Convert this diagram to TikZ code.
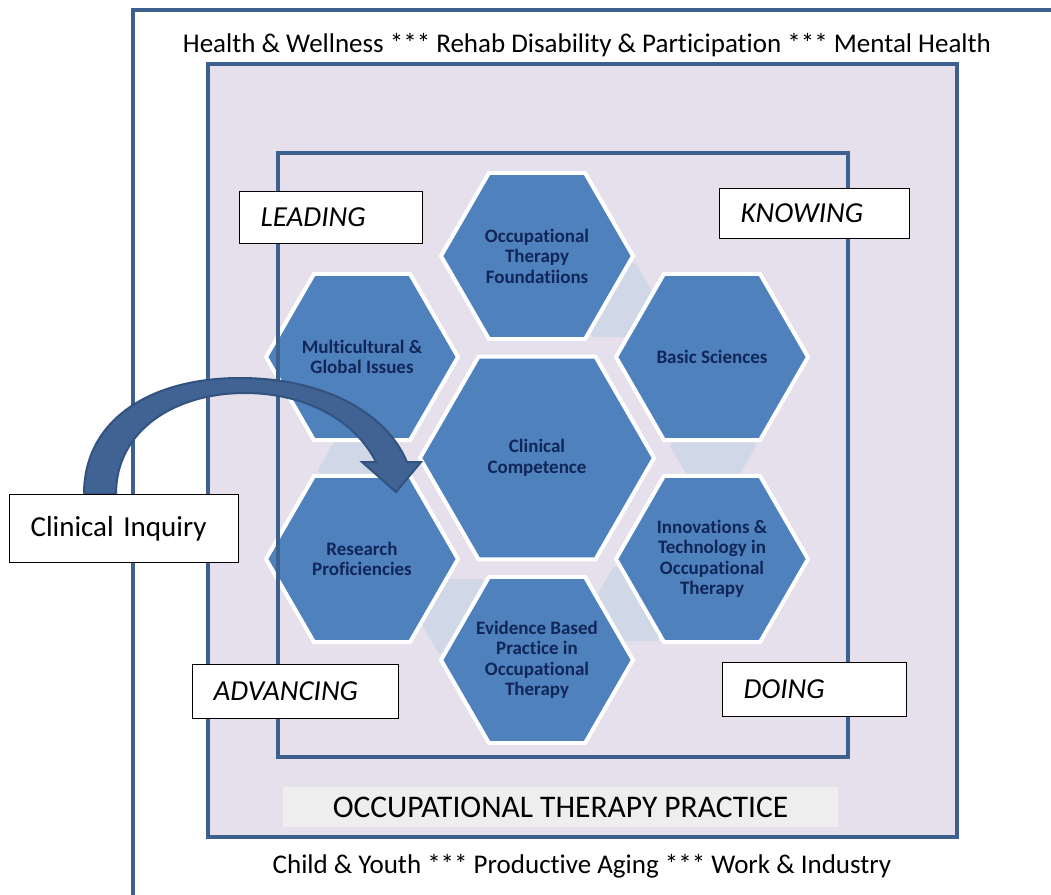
\documentclass[tikz,border=0pt]{standalone}
\usepackage{fontspec}
\setmainfont{Carlito}[Ligatures={NoCommon,TeX}]
\usetikzlibrary{shapes.geometric}
\definecolor{frameblue}{RGB}{62,96,143}
\definecolor{lav}{RGB}{229,224,236}
\definecolor{hexblue}{RGB}{79,129,189}
\definecolor{conn}{RGB}{208,216,232}
\definecolor{navy}{RGB}{16,38,88}
\definecolor{otpgray}{RGB}{238,238,238}
\definecolor{arrowfill}{RGB}{64,99,148}
\definecolor{arrowline}{RGB}{50,82,128}
\begin{document}
\begin{tikzpicture}[x=1pt,y=-1pt,
  framestyle/.style={draw=frameblue, line width=4.5pt},
  hexsmall/.style={regular polygon, regular polygon sides=6, minimum size=192pt, inner sep=0pt, fill=hexblue, draw=white, line width=4pt},
  hexbig/.style={regular polygon, regular polygon sides=6, minimum size=234pt, inner sep=0pt, fill=hexblue, draw=white, line width=4pt},
  connhex/.style={regular polygon, regular polygon sides=6, minimum size=86pt, inner sep=0pt, fill=conn},
  hextxt/.style={align=center, text=navy, font=\bfseries\fontsize{19}{20.5}\selectfont},
  lbl/.style={draw=black, line width=1.2pt, fill=white, anchor=north west, inner xsep=21pt, inner ysep=0pt, align=left, font=\itshape\fontsize{29}{32}\selectfont},
  bandtxt/.style={font=\fontsize{27}{30}\selectfont, text=black}
]
\useasboundingbox (0,0) rectangle (1051,894);
\clip (0,0) rectangle (1051,894);
\fill[white] (0,0) rectangle (1051,894);

% outer frame
\draw[framestyle] (133,900) -- (133,10) -- (1060,10);
\node[bandtxt] (toptext) at (587,45) {Health \& Wellness *** Rehab Disability \& Participation *** Mental Health};
\node[bandtxt] (bottext) at (582,866) {Child \& Youth *** Productive Aging *** Work \& Industry};

% practice frame
\filldraw[fill=lav, framestyle] (208,64) rectangle (957,837);
\node[fill=otpgray, minimum width=555pt, minimum height=40pt, inner sep=0pt, font=\fontsize{31.5}{34}\selectfont] (otp) at (560.5,807) {OCCUPATIONAL THERAPY PRACTICE};

% connectors
\node[connhex] (c1) at (614,300) {};
\node[connhex] (c2) at (713,446) {};
\node[connhex] (c3) at (635,604) {};
\node[connhex] (c4) at (460,616) {};
\node[connhex] (c5) at (361,470) {};

% hexagons
\node[hexsmall] (otf) at (537,256) {};
\node[hexsmall] (bs) at (712,357) {};
\node[hexsmall] (inn) at (712,559) {};
\node[hexsmall] (ebp) at (537,660) {};
\node[hexsmall] (res) at (362,559) {};
\node[hexsmall] (mul) at (362,357) {};
\node[hexbig] (cc) at (537,458) {};

\node[hextxt] (totf) at (otf) {Occupational\\Therapy\\Foundatiions};
\node[hextxt] (tbs) at (bs) {Basic Sciences};
\node[hextxt] (tinn) at (inn) {Innovations \&\\Technology in\\Occupational\\Therapy};
\node[hextxt] (tebp) at (ebp) {Evidence Based\\Practice in\\Occupational\\Therapy};
\node[hextxt] (tres) at (res) {Research\\Proficiencies};
\node[hextxt] (tmul) at (mul) {Multicultural \&\\Global Issues};
\node[hextxt] (tcc) at (cc) {Clinical\\Competence};

% inner frame
\draw[draw=frameblue, line width=4pt] (278,153) rectangle (848,757);

% corner labels
\node[lbl, text width=141pt, minimum height=52pt] (leading) at (239,191) {LEADING};
\node[lbl, text width=148pt, minimum height=50pt] (knowing) at (719,188) {KNOWING};
\node[lbl, text width=164pt, minimum height=54pt] (advancing) at (192,664) {ADVANCING};
\node[lbl, text width=142pt, minimum height=54pt] (doing) at (722,662) {DOING};

% curved arrow
\coordinate (arrStart) at (100,494);
\coordinate (arrTip) at (396,492);
\filldraw[fill=arrowfill, draw=arrowline, line width=2pt, line join=miter]
  (84,494) .. controls (84,420) and (150,378) .. (240,378)
  .. controls (320,378) and (385,410) .. (407,462)
  -- (421,462) -- (arrTip) -- (362,462) -- (376,462)
  .. controls (355,420) and (305,393) .. (245,393)
  .. controls (175,393) and (116,430) .. (116,494) -- cycle;

\node[draw=black, line width=1.2pt, fill=white, anchor=north west, inner xsep=21pt, inner ysep=0pt, align=left, text width=187pt, minimum height=68pt, font=\fontsize{29}{33}\selectfont] (ci) at (9,494) {Clinical Inquiry};
\end{tikzpicture}
\end{document}
